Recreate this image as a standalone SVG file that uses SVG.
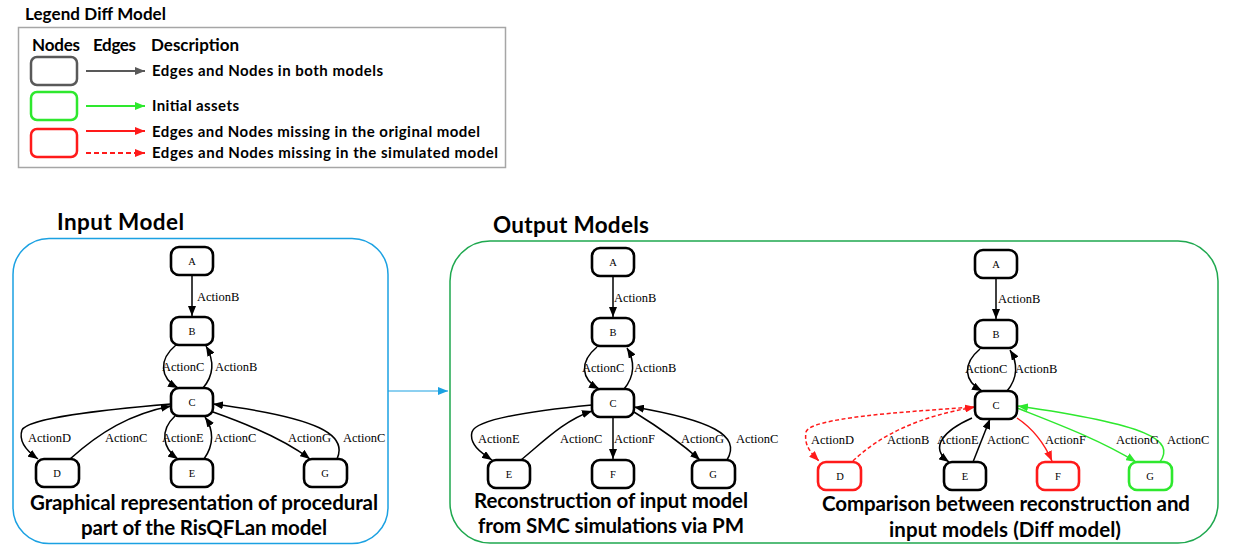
<svg xmlns="http://www.w3.org/2000/svg" width="1238" height="551" viewBox="0 0 1238 551">
<defs>
<marker id="ak" markerUnits="userSpaceOnUse" markerWidth="10" markerHeight="8" refX="10" refY="4" orient="auto"><path d="M0,0 L10,4 L0,8 z" fill="#000"/></marker>
<marker id="ar" markerUnits="userSpaceOnUse" markerWidth="10" markerHeight="8" refX="10" refY="4" orient="auto"><path d="M0,0 L10,4 L0,8 z" fill="#ff1a1a"/></marker>
<marker id="ag" markerUnits="userSpaceOnUse" markerWidth="10" markerHeight="8" refX="10" refY="4" orient="auto"><path d="M0,0 L10,4 L0,8 z" fill="#2ee82e"/></marker>
<marker id="ay" markerUnits="userSpaceOnUse" markerWidth="10" markerHeight="8" refX="10" refY="4" orient="auto"><path d="M0,0 L10,4 L0,8 z" fill="#595959"/></marker>
<marker id="ab" markerUnits="userSpaceOnUse" markerWidth="10" markerHeight="8" refX="10" refY="4" orient="auto"><path d="M0,0 L10,4 L0,8 z" fill="#1ba1e2"/></marker>
</defs>
<style>
.h{font-family:Lato,"Open Sans","Liberation Sans",sans-serif;font-weight:bold;fill:#000}
.lab{font-family:"Liberation Serif","Times New Roman",serif;font-size:12.5px;fill:#000}
.nl{font-family:"Liberation Serif","Times New Roman",serif;font-size:10.5px;fill:#000;text-anchor:middle}
.n{fill:#fff;stroke:#000;stroke-width:2.6}
.nr{fill:#fff;stroke:#ff1a1a;stroke-width:2.6}
.ng{fill:#fff;stroke:#2ee82e;stroke-width:2.6}
.e{fill:none;stroke:#000;stroke-width:1.5;marker-end:url(#ak)}
.er{fill:none;stroke:#ff1a1a;stroke-width:1.5;marker-end:url(#ar)}
.ed{fill:none;stroke:#ff1a1a;stroke-width:1.5;stroke-dasharray:4,2.5;marker-end:url(#ar)}
.eg{fill:none;stroke:#2ee82e;stroke-width:1.5;marker-end:url(#ag)}
</style>
<rect width="1238" height="551" fill="#fff"/>

<g id="legend">
<text class="h" x="25" y="20" font-size="17" textLength="141">Legend Diff Model</text>
<rect x="18.5" y="27.5" width="487" height="140" fill="none" stroke="#a6a6a6" stroke-width="1.5"/>
<text class="h" x="32" y="51" font-size="17" textLength="48">Nodes</text>
<text class="h" x="93" y="51" font-size="17" textLength="43">Edges</text>
<text class="h" x="151" y="51" font-size="17" textLength="88">Description</text>
<rect x="31" y="57" width="46" height="28" rx="6" fill="#fff" stroke="#595959" stroke-width="2.5"/>
<rect x="31" y="92" width="46" height="28" rx="6" fill="#fff" stroke="#2ee82e" stroke-width="2.5"/>
<rect x="31" y="129" width="46" height="28" rx="6" fill="#fff" stroke="#ff1a1a" stroke-width="2.5"/>
<path d="M86,71 L145,71" stroke="#595959" stroke-width="2" marker-end="url(#ay)"/>
<path d="M86,106 L145,106" stroke="#2ee82e" stroke-width="2" marker-end="url(#ag)"/>
<path d="M86,131 L145,131" stroke="#ff1a1a" stroke-width="2" marker-end="url(#ar)"/>
<path d="M86,153 L145,153" stroke="#ff1a1a" stroke-width="2" stroke-dasharray="5,3" marker-end="url(#ar)"/>
<text class="h" x="152" y="76" font-size="15" textLength="231">Edges and Nodes in both models</text>
<text class="h" x="152" y="111" font-size="15" textLength="87">Initial assets</text>
<text class="h" x="152" y="137" font-size="15" textLength="328">Edges and Nodes missing in the original model</text>
<text class="h" x="152" y="158" font-size="15" textLength="346">Edges and Nodes missing in the simulated model</text>
</g>

<g id="input-model">
<text class="h" x="57" y="230" font-size="22.5" textLength="127">Input Model</text>
<rect x="13" y="238.5" width="375" height="305" rx="36" fill="none" stroke="#1ba1e2" stroke-width="1.5"/>
<text class="h" x="30" y="510" font-size="20.5" textLength="348">Graphical representation of procedural</text>
<text class="h" x="81" y="535" font-size="20.5" textLength="246">part of the RisQFLan model</text>
</g>

<g id="output-models">
<text class="h" x="493" y="233" font-size="22.5" textLength="156">Output Models</text>
<rect x="450" y="241" width="768" height="302" rx="40" fill="none" stroke="#1fa84f" stroke-width="1.5"/>
<text class="h" x="474" y="508" font-size="20.5" textLength="274">Reconstruction of input model</text>
<text class="h" x="478" y="533" font-size="20.5" textLength="266">from SMC simulations via PM</text>
<text class="h" x="822" y="511" font-size="20.5" textLength="368">Comparison between reconstruction and</text>
<text class="h" x="889" y="537" font-size="20.5" textLength="232">input models (Diff model)</text>
</g>

<g id="connectors">
<path d="M388,391 L448,391" stroke="#1ba1e2" stroke-width="1" fill="none" marker-end="url(#ab)"/>
<path class="e" d="M192,275 L192,316"/>
<path class="e" d="M176,345 C158,360 160,378 178,388"/>
<path class="e" d="M203,388 C214,375 214,360 206,346"/>
<path class="e" d="M171,404 C100,410 28,418 22,430 C18,442 28,452 38,459"/>
<path class="e" d="M70,459 C100,432 130,414 171,406"/>
<path class="e" d="M175,416 C160,430 162,448 178,459"/>
<path class="e" d="M204,459 C214,445 214,430 205,417"/>
<path class="e" d="M213,412 C250,425 285,440 310,459"/>
<path class="e" d="M337,459 C348,435 320,418 213,404"/>
<path class="e" d="M613,276 L613,317"/>
<path class="e" d="M597,347 C579,362 581,379 599,389"/>
<path class="e" d="M624,389 C635,376 635,361 627,348"/>
<path class="e" d="M592,405 C540,410 476,418 472,432 C469,444 480,452 492,460"/>
<path class="e" d="M521,460 C545,440 565,420 592,411"/>
<path class="e" d="M613,418 L613,459"/>
<path class="e" d="M634,412 C660,428 680,442 700,460"/>
<path class="e" d="M727,460 C742,435 710,420 634,407"/>
<path class="e" d="M996,278 L996,319"/>
<path class="e" d="M980,349 C962,364 964,381 982,391"/>
<path class="e" d="M1007,391 C1018,378 1018,363 1010,350"/>
<path class="ed" d="M975,407 C900,412 810,418 806,432 C804,445 810,452 819,461"/>
<path class="ed" d="M853,461 C880,435 920,416 975,407"/>
<path class="e" d="M972,418 C945,430 928,447 949,462"/>
<path class="e" d="M973,462 L990,419"/>
<path class="er" d="M1017,418 C1035,430 1045,445 1052,461"/>
<path class="eg" d="M1017,408 C1060,425 1100,440 1136,462"/>
<path class="eg" d="M1160,462 C1175,440 1150,425 1018,406"/>
</g>

<g id="edge-labels">
<text class="lab" x="197" y="301">ActionB</text>
<text class="lab" x="162" y="371">ActionC</text>
<text class="lab" x="215" y="371">ActionB</text>
<text class="lab" x="28" y="442">ActionD</text>
<text class="lab" x="105" y="442">ActionC</text>
<text class="lab" x="162" y="442">ActionE</text>
<text class="lab" x="214" y="442">ActionC</text>
<text class="lab" x="288" y="442">ActionG</text>
<text class="lab" x="343" y="442">ActionC</text>

<text class="lab" x="614" y="302">ActionB</text>
<text class="lab" x="582" y="372">ActionC</text>
<text class="lab" x="634" y="372">ActionB</text>
<text class="lab" x="478" y="443">ActionE</text>
<text class="lab" x="560" y="443">ActionC</text>
<text class="lab" x="614" y="443">ActionF</text>
<text class="lab" x="681" y="443">ActionG</text>
<text class="lab" x="736" y="443">ActionC</text>

<text class="lab" x="998" y="303">ActionB</text>
<text class="lab" x="965" y="373">ActionC</text>
<text class="lab" x="1015" y="373">ActionB</text>
<text class="lab" x="811" y="444">ActionD</text>
<text class="lab" x="887" y="444">ActionB</text>
<text class="lab" x="937" y="444">ActionE</text>
<text class="lab" x="987" y="444">ActionC</text>
<text class="lab" x="1045" y="444">ActionF</text>
<text class="lab" x="1116" y="444">ActionG</text>
<text class="lab" x="1167" y="444">ActionC</text>
</g>

<g id="in-A"><rect class="n" x="171" y="247" width="42" height="28" rx="8"/><text class="nl" x="192" y="265">A</text></g>
<g id="in-B"><rect class="n" x="171" y="317" width="42" height="28" rx="8"/><text class="nl" x="192" y="335">B</text></g>
<g id="in-C"><rect class="n" x="171" y="388" width="42" height="28" rx="8"/><text class="nl" x="192" y="406">C</text></g>
<g id="in-D"><rect class="n" x="36" y="459" width="43" height="28" rx="8"/><text class="nl" x="57" y="477">D</text></g>
<g id="in-E"><rect class="n" x="171" y="459" width="42" height="28" rx="8"/><text class="nl" x="192" y="477">E</text></g>
<g id="in-G"><rect class="n" x="304" y="459" width="43" height="28" rx="8"/><text class="nl" x="325" y="477">G</text></g>

<g id="rec-A"><rect class="n" x="592" y="248" width="42" height="28" rx="8"/><text class="nl" x="613" y="266">A</text></g>
<g id="rec-B"><rect class="n" x="592" y="318" width="42" height="28" rx="8"/><text class="nl" x="613" y="336">B</text></g>
<g id="rec-C"><rect class="n" x="592" y="389" width="42" height="28" rx="8"/><text class="nl" x="613" y="407">C</text></g>
<g id="rec-E"><rect class="n" x="488" y="460" width="42" height="28" rx="8"/><text class="nl" x="509" y="478">E</text></g>
<g id="rec-F"><rect class="n" x="592" y="460" width="42" height="28" rx="8"/><text class="nl" x="613" y="478">F</text></g>
<g id="rec-G"><rect class="n" x="692" y="460" width="43" height="28" rx="8"/><text class="nl" x="713" y="478">G</text></g>

<g id="diff-A"><rect class="n" x="975" y="250" width="42" height="28" rx="8"/><text class="nl" x="996" y="268">A</text></g>
<g id="diff-B"><rect class="n" x="975" y="320" width="42" height="28" rx="8"/><text class="nl" x="996" y="338">B</text></g>
<g id="diff-C"><rect class="n" x="975" y="391" width="42" height="28" rx="8"/><text class="nl" x="996" y="409">C</text></g>
<g id="diff-D"><rect class="nr" x="818" y="462" width="43" height="28" rx="8"/><text class="nl" x="840" y="480">D</text></g>
<g id="diff-E"><rect class="n" x="944" y="462" width="42" height="28" rx="8"/><text class="nl" x="965" y="480">E</text></g>
<g id="diff-F"><rect class="nr" x="1037" y="462" width="42" height="28" rx="8"/><text class="nl" x="1058" y="480">F</text></g>
<g id="diff-G"><rect class="ng" x="1129" y="462" width="43" height="28" rx="8"/><text class="nl" x="1150" y="480">G</text></g>
</svg>
